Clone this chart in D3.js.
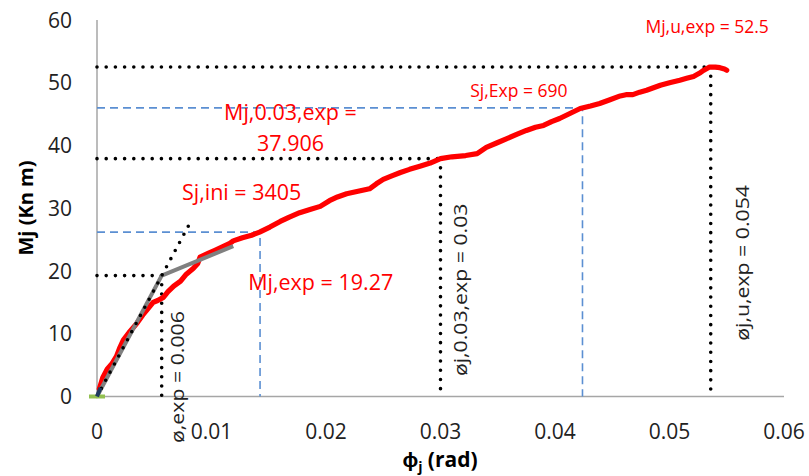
<html>
<head>
<meta charset="UTF-8">
<script src="https://d3js.org/d3.v7.min.js"></script>
<style>
  body { margin: 0; background: #fff; }
  text { font-family: "Open Sans", sans-serif; }
</style>
</head>
<body>
<svg id="chart" width="809" height="476"></svg>
<script>
// measured curve (rotation in rad, moment in kN m)
const phi = [0.0002, 0.0005, 0.0009, 0.0013, 0.0017, 0.0020, 0.0023, 0.0028, 0.0035, 0.0040,
  0.0044, 0.0049, 0.0053, 0.0058, 0.0062, 0.0067, 0.0073, 0.0078, 0.0084, 0.0088,
  0.0090, 0.0097, 0.0103, 0.0110, 0.0116, 0.0119, 0.0127, 0.0135, 0.0142, 0.0151,
  0.0160, 0.0168, 0.0177, 0.0186, 0.0195, 0.0203, 0.0210, 0.0218, 0.0228, 0.0238,
  0.0244, 0.0250, 0.0258, 0.0265, 0.0273, 0.0282, 0.0291, 0.0300, 0.0310, 0.0322,
  0.0332, 0.0340, 0.0349, 0.0358, 0.0367, 0.0375, 0.0383, 0.0390, 0.0397, 0.0404,
  0.0413, 0.0422, 0.0431, 0.0439, 0.0448, 0.0457, 0.0462, 0.0468, 0.0474, 0.0480,
  0.0486, 0.0492, 0.0500, 0.0509, 0.0515, 0.0521, 0.0526, 0.0530, 0.0535, 0.0540,
  0.0544, 0.0548, 0.0550]
const moment = [1.2, 3.0, 4.4, 5.2, 6.4, 7.8, 9.0, 10.2, 11.7, 13.0,
  13.9, 15.0, 15.3, 15.8, 16.7, 17.6, 18.4, 19.5, 20.4, 21.2,
  22.2, 22.8, 23.3, 23.9, 24.4, 24.8, 25.3, 25.7, 26.2, 27.0,
  27.9, 28.6, 29.3, 29.8, 30.3, 31.2, 31.8, 32.3, 32.7, 33.1,
  33.9, 34.6, 35.2, 35.7, 36.2, 36.7, 37.2, 37.9, 38.2, 38.4,
  38.7, 39.7, 40.4, 41.1, 41.8, 42.4, 42.9, 43.2, 43.8, 44.3,
  45.1, 45.9, 46.3, 46.7, 47.3, 47.9, 48.1, 48.1, 48.5, 48.8,
  49.2, 49.6, 50.0, 50.4, 50.7, 51.0, 51.5, 52.0, 52.5, 52.5,
  52.4, 52.2, 52.0]

// bilinear idealisation
const biPhi = [0, 0.00565, 0.0119]
const biM = [0, 19.27, 23.96]

// initial stiffness line
const iniPhi = [0, 0.0080]
const iniM = [0, 27.24]

// characteristic points
const phiY = 0.00565, mY = 19.27
const phi03 = 0.030, m03 = 37.906
const phiU = 0.0536, mU = 52.5
const phiS1 = 0.01424, mS1 = 26.2
const phiS2 = 0.0424, mS2 = 46.0

const xTicks = [0, 0.01, 0.02, 0.03, 0.04, 0.05, 0.06]
const yTicks = [0, 10, 20, 30, 40, 50, 60]

let svg = d3.select('svg#chart')

let x = d3.scaleLinear().domain([0, 0.06]).range([97, 784])
let y = d3.scaleLinear().domain([0, 60]).range([396.5, 20])

// axes
svg.append('line').attr('x1', x(0)).attr('x2', x(0)).attr('y1', y(60)).attr('y2', y(0))
   .attr('stroke', '#a6a6a6').attr('stroke-width', 1.5)
svg.append('line').attr('x1', x(0)).attr('x2', x(0.06)).attr('y1', y(0)).attr('y2', y(0))
   .attr('stroke', '#a6a6a6').attr('stroke-width', 1.5)

svg.selectAll('text.xt').data(xTicks).enter().append('text')
   .attr('class', 'xt')
   .attr('x', d => x(d)).attr('y', 439)
   .attr('text-anchor', 'middle')
   .style('font-size', '21px').style('fill', '#222')
   .text(d => d === 0 ? '0' : d3.format('.2f')(d))

svg.selectAll('text.yt').data(yTicks).enter().append('text')
   .attr('class', 'yt')
   .attr('x', 72).attr('y', d => y(d) + 7.5)
   .attr('text-anchor', 'end')
   .style('font-size', '21px').style('fill', '#222')
   .text(d => d)

// axis titles
svg.append('text')
   .attr('transform', 'translate(33,208) rotate(-90)')
   .attr('text-anchor', 'middle')
   .style('font-size', '20px').style('font-weight', 'bold')
   .text('Mj (Kn m)')

let xt = svg.append('text')
   .attr('x', 440).attr('y', 467)
   .attr('text-anchor', 'middle')
   .style('font-size', '21px').style('font-weight', 'bold')
xt.append('tspan').text('\u03D5')
xt.append('tspan').attr('dy', 5).style('font-size', '14px').text('j')
xt.append('tspan').attr('dy', -5).text(' (rad)')

let line = d3.line().x(d => x(d[0])).y(d => y(d[1]))

// guide lines
let dotted = (pts) => svg.append('path').attr('d', line(pts))
   .attr('fill', 'none').attr('stroke', '#000').attr('stroke-width', 3.6)
   .attr('stroke-linecap', 'round').attr('stroke-dasharray', '0,9.2')
let dashed = (pts) => svg.append('path').attr('d', line(pts))
   .attr('fill', 'none').attr('stroke', '#5b8fd2').attr('stroke-width', 1.6)
   .attr('stroke-dasharray', '8,5')

dashed([[0, mS1], [phiS1, mS1], [phiS1, 0]])
dashed([[0, mS2], [phiS2, mS2], [phiS2, 0]])

dotted([[0, mY], [phiY, mY]])
dotted([[phiY, mY], [phiY, 0]])
dotted([[0, m03], [phi03, m03]])
dotted([[phi03, m03], [phi03, 0]])
dotted([[0, mU], [phiU, mU]])
dotted([[phiU, mU], [phiU, 0.8]])

// experimental curve
svg.append('path').attr('d', line(phi.map((p, i) => [p, moment[i]])))
   .attr('fill', 'none').attr('stroke', '#ff0000').attr('stroke-width', 5.2)
   .attr('stroke-linejoin', 'round').attr('stroke-linecap', 'round')

// bilinear
svg.append('path').attr('d', line(biPhi.map((p, i) => [p, biM[i]])))
   .attr('fill', 'none').attr('stroke', '#808080').attr('stroke-width', 4)

// initial stiffness
dotted(iniPhi.map((p, i) => [p, iniM[i]]))

// small markers at origin
svg.append('path').attr('d', line([[-0.0007, 0], [0.0007, 0]]))
   .attr('stroke', '#92c050').attr('stroke-width', 4)
svg.append('path').attr('d', line([[0, 0], [0.0003, 1.4]]))
   .attr('stroke', '#1f3a60').attr('stroke-width', 4)

// red annotations
let red = (t, px, py, size, anchor) => svg.append('text')
   .attr('x', x(px)).attr('y', y(py))
   .attr('text-anchor', anchor || 'start')
   .style('font-size', size + 'px').style('fill', '#ff0000')
   .text(t)

red('Mj,u,exp = 52.5', 0.0479, 57.9, 17.5)
red('Sj,Exp = 690', 0.0326, 47.7, 17.5)
red('Mj,0.03,exp =', 0.0169, 44.0, 21.5, 'middle')
red('37.906', 0.0169, 39.2, 21.5, 'middle')
red('Sj,ini = 3405', 0.00742, 31.3, 21.5)
red('Mj,exp = 19.27', 0.0132, 16.95, 21.5)

// rotated annotations
let vert = (t, px, py) => svg.append('text')
   .attr('transform', `translate(${x(px)},${y(py)}) rotate(-90) scale(1.15,1)`)
   .attr('text-anchor', 'middle')
   .style('font-size', '18.5px').style('fill', '#222')
   .text(t)

vert('\u00F8,exp = 0.006', 0.0076, 3.1)
vert('\u00F8j,0.03,exp = 0.03', 0.0323, 17.0)
vert('\u00F8j,u,exp = 0.054', 0.0569, 21.3)
</script>
</body>
</html>
